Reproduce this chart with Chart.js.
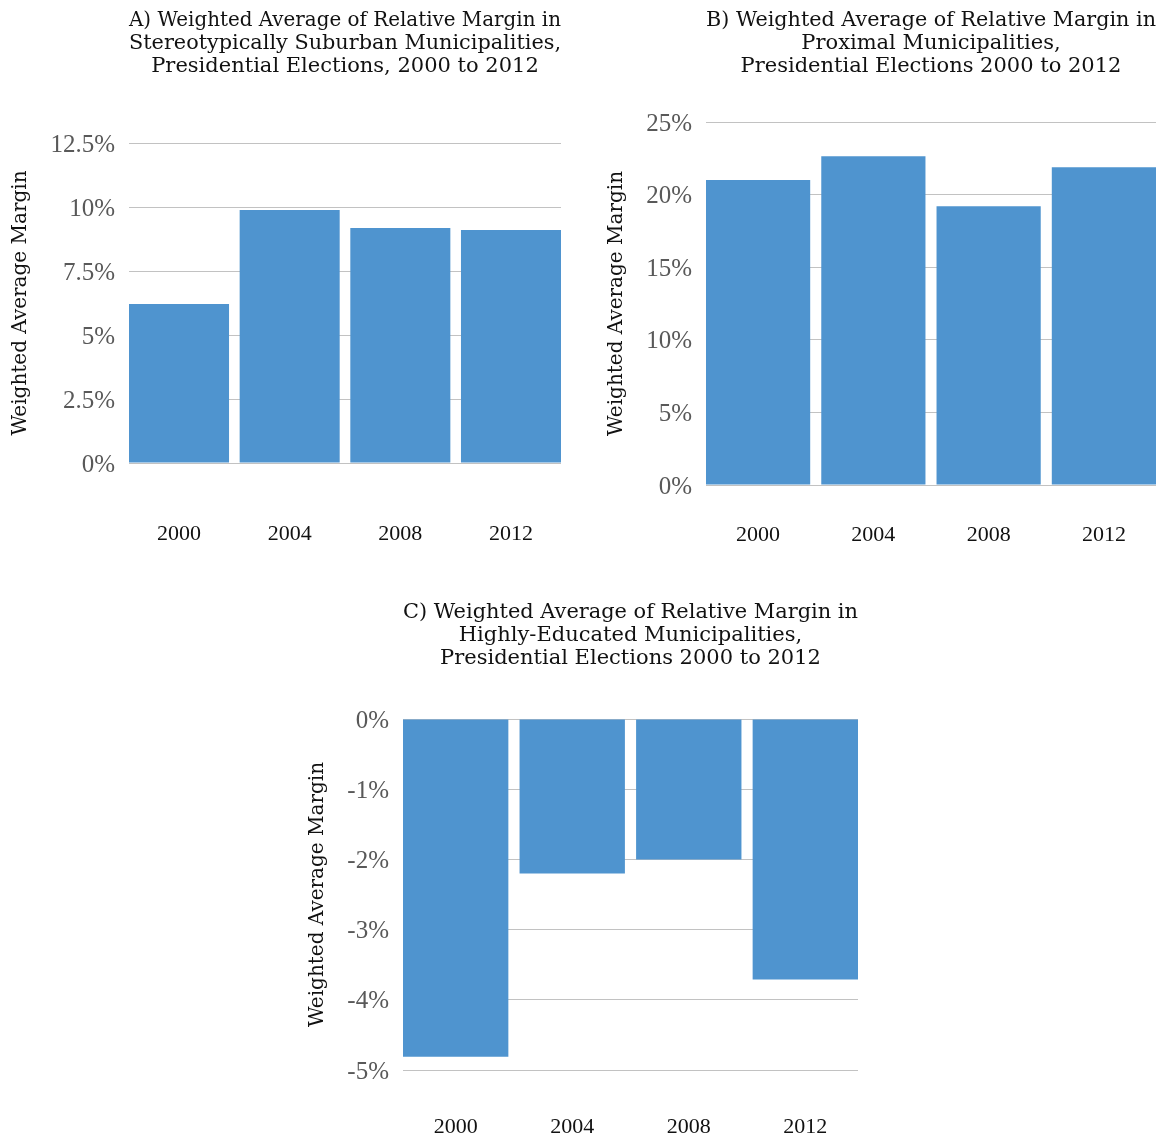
<!DOCTYPE html>
<html>
<head>
<meta charset="utf-8">
<script src="https://cdn.jsdelivr.net/npm/chart.js@4"></script>
<style>
    body { margin: 0; background: #fff; }
    .panel { position: absolute; }
</style>
</head>
<body>
<div class="panel" style="left:0;top:0"><canvas id="suburbanChart" width="578" height="560"></canvas></div>
<div class="panel" style="left:578px;top:0"><canvas id="proximalChart" width="578" height="560"></canvas></div>
<div class="panel" style="left:290px;top:590px"><canvas id="educatedChart" width="578" height="548"></canvas></div>
<script>
// election years shared by all three panels
const years = ["2000", "2004", "2008", "2012"];

// weighted average relative margin, in percent
const suburbanMargin = [6.21, 9.88, 9.18, 9.10];
const proximalMargin = [21.0, 22.64, 19.2, 21.88];
const educatedMargin = [-4.81, -2.2, -2.0, -3.71];

// y-axis tick values
const suburbanTicks = [0, 2.5, 5, 7.5, 10, 12.5];
const proximalTicks = [0, 5, 10, 15, 20, 25];
const educatedTicks = [-5, -4, -3, -2, -1, 0];

const suburbanTitle = [
    "A) Weighted Average of Relative Margin in",
    "Stereotypically Suburban Municipalities,",
    "Presidential Elections, 2000 to 2012"
];
const proximalTitle = [
    "B) Weighted Average of Relative Margin in",
    "Proximal Municipalities,",
    "Presidential Elections 2000 to 2012"
];
const educatedTitle = [
    "C) Weighted Average of Relative Margin in",
    "Highly-Educated Municipalities,",
    "Presidential Elections 2000 to 2012"
];

const wideSerif = "'DejaVu Serif', serif";
const tallSerif = "'Liberation Serif', serif";
const barColor = "#4f94cf";
// share of each slot filled by its bar; outer bars sit flush with the plot edges
const barFill = 0.904;

function createChart(chartId, values, ticks, titleText, box) {
    return new Chart(document.getElementById(chartId), {
        type: "bar",
        data: {
            datasets: [{
                data: values.map((v, i) => ({ x: i, y: v })),
                backgroundColor: barColor,
                barPercentage: barFill,
                categoryPercentage: 1.0
            }]
        },
        options: {
            responsive: false,
            animation: false,
            layout: { padding: { left: box.padLeft, right: box.padRight, top: 0, bottom: 0 } },
            plugins: {
                legend: { display: false },
                tooltip: { enabled: false },
                title: {
                    display: true,
                    text: titleText,
                    fullSize: false,
                    color: "#111",
                    font: { family: wideSerif, size: 21, weight: "normal", lineHeight: "23px" },
                    padding: { top: box.titleTop, bottom: box.titleBottom }
                }
            },
            scales: {
                x: {
                    type: "linear",
                    offset: false,
                    min: -barFill / 2,
                    max: years.length - 1 + barFill / 2,
                    afterBuildTicks: s => { s.ticks = years.map((y, i) => ({ value: i })); },
                    // tickLength only pushes the year labels down; nothing is drawn
                    grid: { display: false, tickLength: box.xGap },
                    border: { display: false },
                    ticks: {
                        color: "#111",
                        padding: 0,
                        font: { family: tallSerif, size: 22 },
                        callback: v => years[v]
                    },
                    afterFit: s => { s.height = box.xHeight; }
                },
                y: {
                    min: ticks[0],
                    max: ticks[ticks.length - 1],
                    afterBuildTicks: s => { s.ticks = ticks.map(v => ({ value: v })); },
                    grid: { color: "#c2c2c2", lineWidth: 1, drawTicks: false },
                    border: { display: false },
                    ticks: {
                        color: "#595959",
                        padding: 14,
                        labelOffset: 2,
                        font: { family: tallSerif, size: 25 },
                        callback: v => v + "%"
                    },
                    title: {
                        display: true,
                        text: "Weighted Average Margin",
                        color: "#111",
                        padding: 0,
                        font: { family: wideSerif, size: 20, lineHeight: 1.2 }
                    },
                    afterFit: s => { s.width = box.yWidth; }
                }
            }
        }
    });
}

createChart("suburbanChart", suburbanMargin, suburbanTicks, suburbanTitle,
    { padLeft: 9, padRight: 17, titleTop: 9, titleBottom: 65, yWidth: 120, xHeight: 97, xGap: 58 });
createChart("proximalChart", proximalMargin, proximalTicks, proximalTitle,
    { padLeft: 27, padRight: 0, titleTop: 9, titleBottom: 44, yWidth: 101, xHeight: 75, xGap: 37 });
createChart("educatedChart", educatedMargin, educatedTicks, educatedTitle,
    { padLeft: 16, padRight: 10, titleTop: 11, titleBottom: 49, yWidth: 97, xHeight: 68, xGap: 44 });
</script>
</body>
</html>
